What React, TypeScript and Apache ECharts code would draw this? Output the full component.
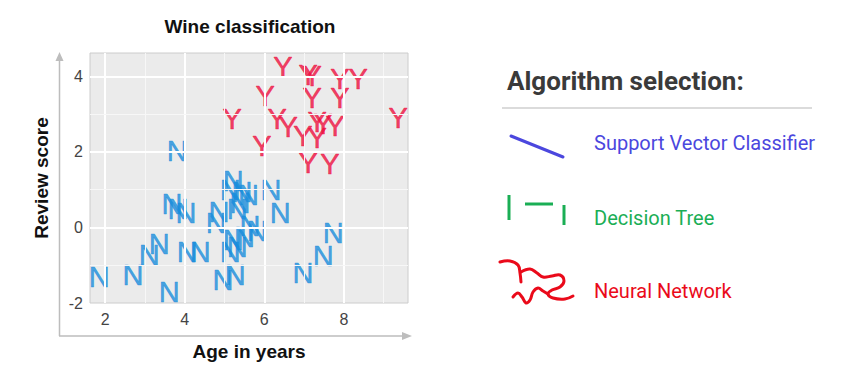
import React, { useEffect, useRef } from "react";
import * as echarts from "echarts";

// Class "N" points: [age in years, review score]
const classN: number[][] = [
  [1.85, -1.3], [2.7, -1.27], [3.61, -1.72], [3.11, -0.72], [3.36, -0.45],
  [3.68, 0.61], [3.83, 0.48], [4.03, 0.37], [4.06, -0.66], [4.39, -0.64],
  [3.81, 2.02], [5.22, 1.22], [5.14, 1.0], [5.44, 0.93], [5.6, 0.87],
  [6.17, 1.0], [6.4, 0.39], [4.86, 0.42], [4.79, 0.11], [5.32, 0.48],
  [5.39, 0.66], [5.64, 0.03], [5.82, -0.1], [5.22, -0.32], [5.32, -0.53],
  [4.96, -1.38], [5.27, -1.25], [5.14, -0.66], [5.5, -0.24], [6.97, -1.2],
  [7.48, -0.76], [7.73, -0.14],
];

// Class "Y" points: [age in years, review score]
const classY: number[][] = [
  [6.47, 4.26], [7.1, 4.05], [7.2, 4.0], [7.9, 3.92], [8.36, 3.92],
  [6.02, 3.47], [7.2, 3.44], [7.9, 3.44], [6.32, 2.86], [6.6, 2.65],
  [6.97, 2.41], [7.33, 2.78], [7.48, 2.73], [7.78, 2.68], [7.33, 2.38],
  [5.94, 2.15], [7.1, 1.72], [7.65, 1.67], [9.36, 2.91], [5.19, 2.86],
];

const majorX = [2, 4, 6, 8];
const minorX = [3, 5, 7, 9];
const majorY = [0, 2, 4];
const minorY = [-1, 1, 3];

const algorithms = ["Support Vector Classifier", "Decision Tree", "Neural Network"];

export default function App() {
  const ref = useRef<HTMLDivElement>(null);
  useEffect(() => {
    if (!ref.current) return;
    const chart = echarts.init(ref.current, null, { renderer: "svg" });
    const axisFont = "Liberation Sans";
    const gridLines = [
      ...majorX.map((v) => ({ xAxis: v, lineStyle: { color: "#ffffff", width: 2 } })),
      ...minorX.map((v) => ({ xAxis: v, lineStyle: { color: "#f7f7f7", width: 1 } })),
      ...majorY.map((v) => ({ yAxis: v, lineStyle: { color: "#ffffff", width: 2 } })),
      ...minorY.map((v) => ({ yAxis: v, lineStyle: { color: "#f7f7f7", width: 1 } })),
    ];
    const axisColor = "#bdbdbd";
    const markerLabel = (text: string, color: string) => ({
      show: true,
      position: "inside",
      align: "center",
      verticalAlign: "middle",
      overflow: "none",
      formatter: text,
      fontFamily: axisFont,
      fontSize: 29,
      color,
      textBorderColor: color,
      textBorderWidth: 0.5,
    });
    chart.setOption({
      animation: false,
      title: {
        text: "Wine classification",
        left: 250,
        top: 17,
        padding: 0,
        textAlign: "center",
        textStyle: { fontFamily: axisFont, fontWeight: "bold", fontSize: 19, color: "#111" },
      },
      grid: {
        left: 90,
        top: 53,
        width: 318,
        height: 250,
        show: true,
        backgroundColor: "#ebebeb",
        borderColor: "#cccccc",
        borderWidth: 1,
      },
      xAxis: {
        type: "value",
        min: 1.62,
        max: 9.61,
        name: "Age in years",
        nameLocation: "middle",
        nameGap: 39,
        nameTextStyle: { fontFamily: axisFont, fontWeight: "bold", fontSize: 19, color: "#111" },
        axisLine: { show: false },
        axisTick: { show: false },
        splitLine: { show: false },
        axisLabel: {
          margin: 8,
          fontFamily: axisFont,
          fontSize: 16,
          color: "#444",
          showMinLabel: false,
          showMaxLabel: false,
        },
      },
      yAxis: {
        type: "value",
        min: -2,
        max: 4.62,
        interval: 2,
        name: "Review score",
        nameLocation: "middle",
        nameGap: 39,
        nameTextStyle: { fontFamily: axisFont, fontWeight: "bold", fontSize: 19, color: "#111" },
        axisLine: { show: false },
        axisTick: { show: false },
        splitLine: { show: false },
        axisLabel: {
          margin: 7,
          fontFamily: axisFont,
          fontSize: 16,
          color: "#444",
          showMaxLabel: false,
        },
      },
      series: [
        {
          type: "scatter",
          data: [],
          z: 1,
          silent: true,
          markLine: {
            silent: true,
            symbol: "none",
            label: { show: false },
            lineStyle: { type: "solid" },
            emphasis: { disabled: true },
            data: gridLines,
          },
        },
        {
          name: "N",
          type: "scatter",
          z: 3,
          clip: false,
          data: classN,
          symbol: "rect",
          symbolSize: 26,
          itemStyle: { color: "rgba(0,0,0,0)" },
          label: markerLabel("N", "#188ddc"),
          labelLayout: { hideOverlap: false },
          emphasis: { disabled: true },
        },
        {
          name: "Y",
          type: "scatter",
          z: 3,
          clip: false,
          data: classY,
          symbol: "rect",
          symbolSize: 26,
          itemStyle: { color: "rgba(0,0,0,0)" },
          label: markerLabel("Y", "#ee0f3f"),
          labelLayout: { hideOverlap: false },
          emphasis: { disabled: true },
        },
      ],
      graphic: [
        // axis arrows
        { type: "line", shape: { x1: 59.5, y1: 336, x2: 59.5, y2: 59 }, style: { stroke: axisColor, lineWidth: 1.5 } },
        { type: "polygon", shape: { points: [[59.5, 52], [55.5, 61], [63.5, 61]] }, style: { fill: axisColor } },
        { type: "line", shape: { x1: 59, y1: 336, x2: 404, y2: 336 }, style: { stroke: axisColor, lineWidth: 1.5 } },
        { type: "polygon", shape: { points: [[412, 336], [402, 332], [402, 340]] }, style: { fill: axisColor } },
        // legend panel
        {
          type: "text",
          x: 507,
          y: 81,
          style: {
            text: "Algorithm selection:",
            font: "bold 26px Roboto",
            fill: "#3a3a3a",
            textVerticalAlign: "middle",
            verticalAlign: "middle",
          },
        },
        { type: "line", shape: { x1: 502, y1: 108, x2: 812, y2: 108 }, style: { stroke: "#cfcfcf", lineWidth: 1.5 } },
        { type: "line", shape: { x1: 511, y1: 136, x2: 563, y2: 157 }, style: { stroke: "#4b47de", lineWidth: 3, lineCap: "round" } },
        {
          type: "text",
          x: 594,
          y: 143,
          style: { text: algorithms[0], font: "20px Roboto", fill: "#4b47de", textVerticalAlign: "middle", verticalAlign: "middle" },
        },
        { type: "line", shape: { x1: 509, y1: 195, x2: 509, y2: 220 }, style: { stroke: "#1aae55", lineWidth: 3 } },
        { type: "line", shape: { x1: 525, y1: 204, x2: 553, y2: 204 }, style: { stroke: "#1aae55", lineWidth: 3 } },
        { type: "line", shape: { x1: 564, y1: 205, x2: 564, y2: 225 }, style: { stroke: "#1aae55", lineWidth: 3 } },
        {
          type: "text",
          x: 594,
          y: 218,
          style: { text: algorithms[1], font: "20px Roboto", fill: "#1aae55", textVerticalAlign: "middle", verticalAlign: "middle" },
        },
        {
          type: "polyline",
          shape: { points: [[500, 262], [510, 261], [518, 265], [520, 273], [521, 282]], smooth: 0.4 },
          style: { stroke: "#ea0a1a", lineWidth: 3, fill: null, lineCap: "round", lineJoin: "round" },
        },
        {
          type: "polyline",
          shape: {
            points: [
              [521, 272], [530, 269], [537, 273], [543, 277], [552, 276], [560, 275], [564, 281],
              [560, 287], [552, 290], [548, 294], [553, 298], [565, 299], [573, 296],
            ],
            smooth: 0.4,
          },
          style: { stroke: "#ea0a1a", lineWidth: 3, fill: null, lineCap: "round", lineJoin: "round" },
        },
        {
          type: "polyline",
          shape: {
            points: [
              [513, 297], [518, 293], [522, 297], [526, 303], [530, 300], [533, 292], [538, 288],
              [543, 291], [548, 294],
            ],
            smooth: 0.4,
          },
          style: { stroke: "#ea0a1a", lineWidth: 3, fill: null, lineCap: "round", lineJoin: "round" },
        },
        {
          type: "text",
          x: 594,
          y: 291,
          style: { text: algorithms[2], font: "20px Roboto", fill: "#ea0a1a", textVerticalAlign: "middle", verticalAlign: "middle" },
        },
      ],
    });
    return () => chart.dispose();
  }, []);
  return (
    <div
      ref={ref}
      style={{ position: "fixed", left: 0, top: 0, width: 856, height: 369, background: "#fff" }}
    />
  );
}
